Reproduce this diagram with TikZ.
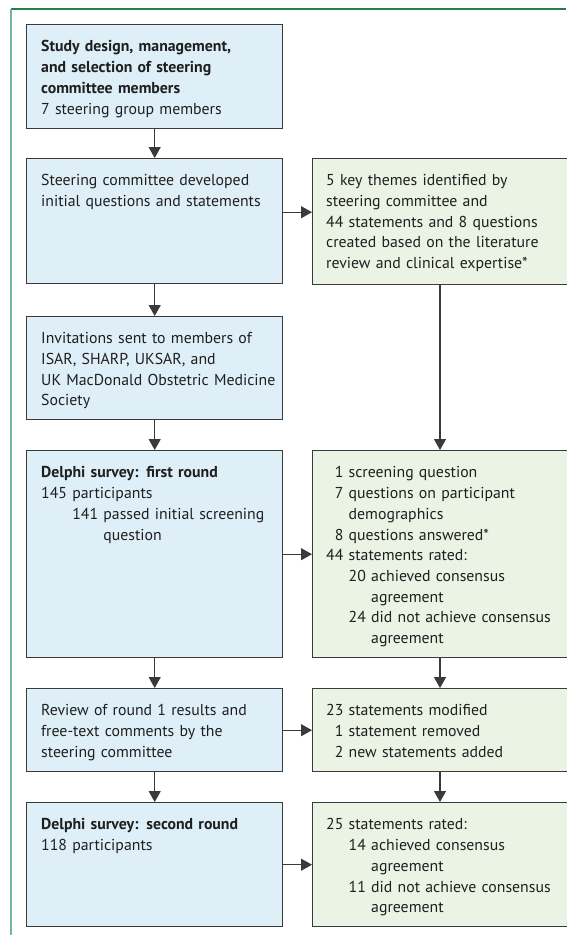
\documentclass[tikz,border=0pt]{standalone}
\usepackage{fontspec}
\setmainfont{PT Sans}
\usetikzlibrary{arrows.meta}
\definecolor{bluefill}{HTML}{DFEFF7}
\definecolor{greenfill}{HTML}{EAF3E4}
\definecolor{boxline}{HTML}{3A3A3A}
\definecolor{frametop}{HTML}{2B7A4B}
\definecolor{frameleft}{HTML}{72B898}
\begin{document}
\begin{tikzpicture}[x=1pt,y=-1pt,
  bluebox/.style={draw=boxline,line width=1.4pt,fill=bluefill,anchor=north west,inner sep=0pt,minimum width=256pt},
  greenbox/.style={bluebox,fill=greenfill,minimum width=280pt},
  txt/.style={anchor=north west,align=left,text width=250pt,inner sep=0pt,font=\fontsize{15.8}{20.7}\selectfont,text=black!88},
  arr/.style={-{Triangle[width=12pt,length=11pt]},line width=1.3pt,draw=boxline,fill=boxline}]
\useasboundingbox (0,0) rectangle (566,935);
\fill[white] (0,0) rectangle (566,935);
\draw[frametop,line width=1.5pt] (11,9) -- (566,9);
\draw[frameleft,line width=1.5pt] (11,9) -- (11,935);

\node[bluebox,minimum height=104pt] (design) at (26,24) {};
\node[bluebox,minimum height=125pt] (develop) at (26,158) {};
\node[bluebox,minimum height=103pt] (invite) at (26,316) {};
\node[bluebox,minimum height=207pt] (round1) at (26,450) {};
\node[bluebox,minimum height=83pt] (review) at (26,688) {};
\node[bluebox,minimum height=124pt] (round2) at (26,802) {};

\node[greenbox,minimum height=126pt] (themes) at (312,158) {};
\node[greenbox,minimum height=207pt] (answers) at (312,450) {};
\node[greenbox,minimum height=83pt] (changes) at (312,688) {};
\node[greenbox,minimum height=124pt] (rated) at (312,802) {};
\coordinate (gx) at (440,0);

\node[txt] (design-t) at ([shift={(15,16.5)}]design.north west)
  {\textbf{Study design, management,}\\\textbf{and selection of steering}\\\textbf{committee members}\\7 steering group members};
\node[txt] (develop-t) at ([shift={(15,16.5)}]develop.north west)
  {Steering committee developed\\initial questions and statements};
\node[txt] (invite-t) at ([shift={(15,16.5)}]invite.north west)
  {Invitations sent to members of\\ISAR, SHARP, UKSAR, and\\UK MacDonald Obstetric Medicine\\Society};
\node[txt] (round1-t) at ([shift={(15,16.5)}]round1.north west)
  {\textbf{Delphi survey: first round}\\145 participants\\\phantom{145}\ 141 passed initial screening\\\phantom{145}\ \phantom{141}\ question};
\node[txt] (review-t) at ([shift={(15,16.5)}]review.north west)
  {Review of round 1 results and\\free-text comments by the\\steering committee};
\node[txt] (round2-t) at ([shift={(15,16.5)}]round2.north west)
  {\textbf{Delphi survey: second round}\\118 participants};

\node[txt] (themes-t) at ([shift={(14,16.5)}]themes.north west)
  {5 key themes identified by\\steering committee and\\44 statements and 8 questions\\created based on the literature\\review and clinical expertise*};
\node[txt] (answers-t) at ([shift={(14,16.5)}]answers.north west)
  {\phantom{4}1 screening question\\\phantom{4}7 questions on participant\\\phantom{44}\ demographics\\\phantom{4}8 questions answered*\\44 statements rated:\\\phantom{44}\ 20 achieved consensus\\\phantom{44}\ \phantom{20}\ agreement\\\phantom{44}\ 24 did not achieve consensus\\\phantom{44}\ \phantom{24}\ agreement};
\node[txt] (changes-t) at ([shift={(14,16.5)}]changes.north west)
  {23 statements modified\\\phantom{2}1 statement removed\\\phantom{2}2 new statements added};
\node[txt] (rated-t) at ([shift={(14,16.5)}]rated.north west)
  {25 statements rated:\\\phantom{25}\ 14 achieved consensus\\\phantom{25}\ \phantom{14}\ agreement\\\phantom{25}\ 11 did not achieve consensus\\\phantom{25}\ \phantom{11}\ agreement};

\draw[arr] (design) -- (develop);
\draw[arr] (develop) -- (invite);
\draw[arr] (invite) -- (round1);
\draw[arr] (round1) -- (review);
\draw[arr] (review) -- (round2);
\draw[arr] (themes.south -| gx) -- (answers.north -| gx);
\draw[arr] (answers.south -| gx) -- (changes.north -| gx);
\draw[arr] (changes.south -| gx) -- (rated.north -| gx);
\draw[arr] ([yshift=9pt]develop.east) -- ([yshift=9pt]develop.east -| themes.west);
\draw[arr] (round1) -- (answers);
\draw[arr] (review) -- (changes);
\draw[arr] (round2) -- (rated);
\end{tikzpicture}
\end{document}
